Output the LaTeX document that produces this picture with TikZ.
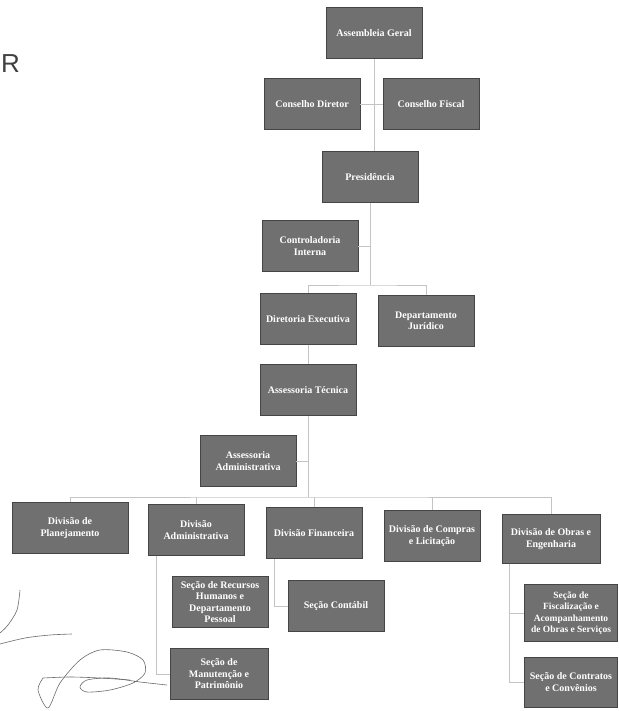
\documentclass[tikz,border=0pt]{standalone}
\usepackage{fontspec}
\setmainfont{Liberation Serif}
\setsansfont{Liberation Sans}
\usetikzlibrary{positioning}
\definecolor{BoxGray}{HTML}{707070}
\definecolor{BoxEdge}{HTML}{454545}
\definecolor{LinkGray}{HTML}{C4C4C4}
\definecolor{InkGray}{HTML}{6A6A6A}

\begin{document}
\begin{tikzpicture}[x=1pt,y=-1pt,
    unit/.style={draw=BoxEdge, fill=BoxGray, text=white, align=center,
        font=\fontsize{10}{11.5}\selectfont\bfseries,
        minimum width=96pt, minimum height=51pt, inner sep=2pt},
    link/.style={draw=LinkGray, line width=0.8pt},
    ink/.style={draw=InkGray, line width=0.6pt}]
    \useasboundingbox (0,0) rectangle (618,711);

    % Logo rest
    \node[anchor=west, inner sep=0pt, text=black!75, font=\sffamily\fontsize{26}{26}\selectfont] (logo) at (1,64) {R};

    % Council level
    \node[unit] (ag) at (374,33) {Assembleia Geral};
    \node[unit] (cd) at (312,104) {Conselho Diretor};
    \node[unit] (cf) at (431,104) {Conselho Fiscal};
    \node[unit] (pres) at (370,177) {Presidência};
    \node[unit] (ci) at (310,246) {Controladoria\\Interna};

    % Executive level
    \node[unit] (de) at (308,319) {Diretoria Executiva};
    \node[unit] (dj) at (426,321) {Departamento\\Jurídico};
    \node[unit] (atec) at (308,390) {Assessoria Técnica};
    \node[unit] (aa) at (248,461) {Assessoria\\Administrativa};

    % Divisions
    \node[unit, minimum width=116pt] (dp) at (70,528) {Divisão de\\Planejamento};
    \node[unit] (dadm) at (196,530) {Divisão\\Administrativa};
    \node[unit] (dfin) at (314,533) {Divisão Financeira};
    \node[unit] (dcl) at (432,536) {Divisão de Compras\\e Licitação};
    \node[unit, minimum width=98pt, minimum height=49pt] (dobr) at (551,539) {Divisão de Obras e\\Engenharia};

    % Sections
    \node[unit] (srh) at (220,602) {Seção de Recursos\\Humanos e\\Departamento\\Pessoal};
    \node[unit] (scont) at (336,606) {Seção Contábil};
    \node[unit, minimum width=98pt] (sman) at (219,674) {Seção de\\Manutenção e\\Patrimônio};
    \node[unit, minimum width=93pt, minimum height=57pt, font=\fontsize{9.5}{11.5}\selectfont\bfseries] (sfis) at (571,613) {Seção de\\Fiscalização e\\Acompanhamento\\de Obras e Serviços};
    \node[unit, minimum width=93pt, minimum height=50pt] (sconv) at (571,682) {Seção de Contratos\\e Convênios};

    % Connectors
    \coordinate (bar1) at (368,285);
    \coordinate (bar2) at (308,497);
    \draw[link] (ag.south) -- (ag.south |- pres.north);
    \draw[link] (cd.east) -- (cf.west);
    \draw[link] (pres.south) -- (pres.south |- bar1);
    \draw[link] (ci.east) -- (ci.east -| pres.south);
    \draw[link] (de.north) |- (bar1) -| (dj.north);
    \draw[link] (de.south) -- (atec.north);
    \draw[link] (atec.south) -- (atec.south |- bar2);
    \draw[link] (aa.east) -- (aa.east -| atec.south);
    \draw[link] (dp.north) |- (bar2) -| (dobr.north);
    \foreach \d in {dadm,dfin,dcl}
        \draw[link] (\d.north) -- (\d.north |- bar2);
    \draw[link] ([xshift=9pt]dadm.south west) |- (sman.west);
    \draw[link] ([xshift=9pt]dfin.south west) |- (scont.west);
    \draw[link] ([xshift=8pt]dobr.south west) |- (sfis.west);
    \draw[link] ([xshift=8pt]dobr.south west) |- (sconv.west);

    % Signatures
    \draw[ink] plot[smooth] coordinates {(20,590) (17,610) (8,625) (0,633)};
    \draw[ink] plot[smooth] coordinates {(0,644) (25,638) (50,635) (72,634)};
    \draw[ink] plot[smooth] coordinates {(43,678) (38,690) (48,708) (60,683) (80,660) (100,650) (127,652) (143,660) (145,673) (133,683) (110,690) (87,692) (80,687) (87,680) (110,678) (140,682) (167,685)};
    \draw[ink] plot[smooth] coordinates {(43,678) (70,677) (100,678) (130,680)};
\end{tikzpicture}
\end{document}
